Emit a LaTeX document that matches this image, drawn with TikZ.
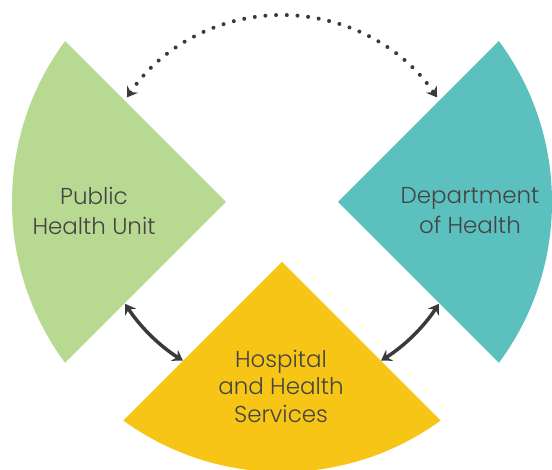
\documentclass[tikz,border=0pt]{standalone}
\usepackage{fontspec}
\IfFontExistsTF{Poppins Light}{\setmainfont{Poppins Light}}{\setmainfont{Poppins}}
\usetikzlibrary{arrows.meta,calc}

\definecolor{unitgreen}{RGB}{184,217,145}
\definecolor{deptteal}{RGB}{91,192,190}
\definecolor{hospyellow}{RGB}{246,197,21}
\definecolor{labelgray}{RGB}{68,68,68}
\definecolor{linkgray}{RGB}{58,58,58}

\tikzset{
  x=1pt, y=1pt,
  >={Stealth[length=10pt, width=13pt, inset=3.5pt]},
  label text/.style={text=labelgray, align=center, inner sep=0pt,
    font=\fontsize{23}{30}\selectfont},
  solid link/.style={draw=linkgray, line width=3.5pt, <->},
  dotted link/.style={draw=linkgray, line width=4pt, line cap=round,
    dash pattern=on 0pt off 10.7pt, <->},
}

\begin{document}
\begin{tikzpicture}
  \useasboundingbox (0,0) rectangle (552,470);
  \coordinate (C) at (282,268);

  % three sectors cut from one disc
  \begin{scope}
    \clip (C) circle (270);
    \fill[unitgreen]  (226,268) -- (-200,694) -- (-200,-158) -- cycle;
    \fill[deptteal]   (338,268) -- (764,694) -- (764,-158) -- cycle;
    \fill[hospyellow] (282,208) -- (-200,-274) -- (764,-274) -- cycle;
  \end{scope}

  % labels
  \node[label text] (phu)  at (94,259)  {Public\\Health Unit};
  \node[label text] (doh)  at (470,259) {Department\\of Health};
  \node[label text, font=\fontsize{23}{27.5}\selectfont] (hhs) at (281,84)
    {Hospital\\and Health\\Services};

  % link ends on the inner ring
  \coordinate (topL) at ($(C)+(146:187)$);
  \coordinate (topR) at ($(C)+(34:187)$);
  \coordinate (lowLa) at ($(C)+(213:187)$);
  \coordinate (lowLb) at ($(C)+(238:187)$);
  \coordinate (lowRa) at ($(C)+(302:187)$);
  \coordinate (lowRb) at ($(C)+(327:187)$);

  \draw[dotted link] (topL) arc[start angle=146, end angle=34, radius=187];
  \draw[solid link] (lowLa) arc[start angle=213, end angle=238, radius=187];
  \draw[solid link] (lowRa) arc[start angle=302, end angle=327, radius=187];
\end{tikzpicture}
\end{document}
